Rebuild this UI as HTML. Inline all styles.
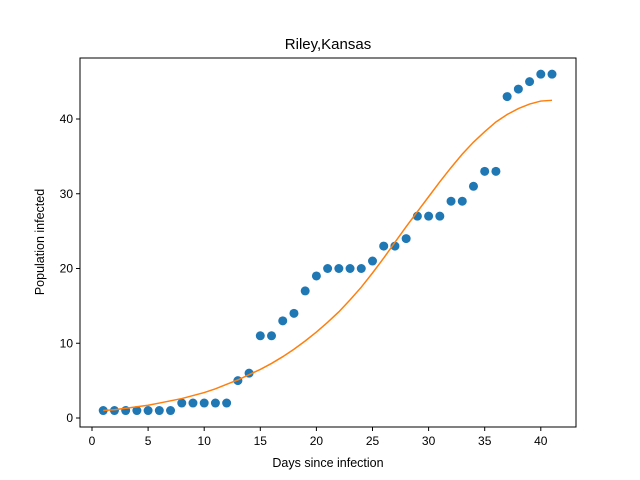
<!DOCTYPE html>
<html><head><meta charset="utf-8"><style>body{margin:0;background:#fff}svg{display:block;font-family:"Liberation Sans",sans-serif}</style></head>
<body>
<svg id="c" width="640" height="480"></svg>
<script>
const days=[1,2,3,4,5,6,7,8,9,10,11,12,13,14,15,16,17,18,19,20,21,22,23,24,25,26,27,28,29,30,31,32,33,34,35,36,37,38,39,40,41];
const infected=[1,1,1,1,1,1,1,2,2,2,2,2,5,6,11,11,13,14,17,19,20,20,20,20,21,23,23,24,27,27,27,29,29,31,33,33,43,44,45,46,46];
const fitted=[1.0,1.1,1.3,1.5,1.7,2.0,2.3,2.6,3.0,3.4,3.9,4.5,5.1,5.8,6.5,7.3,8.2,9.2,10.3,11.5,12.8,14.2,15.8,17.5,19.4,21.4,23.5,25.6,27.6,29.6,31.6,33.5,35.3,36.9,38.3,39.6,40.6,41.4,42.0,42.4,42.5];
const xTicks=[0,5,10,15,20,25,30,35,40];
const yTicks=[0,10,20,30,40];
const NS="http://www.w3.org/2000/svg";
const svg=document.getElementById('c');
const L=80,R=576,T=58,B=427;
const xs=v=>92+(v)*11.22;
const ys=v=>418-v*7.475;
function el(t,a,p){const e=document.createElementNS(NS,t);for(const k in a)e.setAttribute(k,a[k]);(p||svg).appendChild(e);return e;}
const frame=el('rect',{x:L,y:T,width:R-L,height:B-T,fill:'none',stroke:'#000','stroke-width':1});


xTicks.forEach(v=>{const g=el('g',{});


el('line',{x1:xs(v),x2:xs(v),y1:B,y2:B+4,stroke:'#000'},g);
const t=el('text',{x:xs(v),y:B+18,'font-size':12,'text-anchor':'middle'},g);t.textContent=v;});
yTicks.forEach(v=>{const g=el('g',{});


el('line',{x1:L,x2:L-4,y1:ys(v),y2:ys(v),stroke:'#000'},g);
const t=el('text',{x:L-7,y:ys(v)+4,'font-size':12,'text-anchor':'end'},g);t.textContent=v;});
days.forEach((d,i)=>{const c=el('circle',{cx:xs(d),cy:ys(infected[i]),r:4.5,fill:'#1f77b4'});

});
const pl=el('polyline',{points:days.map((d,i)=>xs(d)+','+ys(fitted[i])).join(' '),fill:'none',stroke:'#ff7f0e','stroke-width':1.5});


const ti=el('text',{x:328,y:49,'font-size':15,'text-anchor':'middle'});ti.textContent='Riley,Kansas';


const xl=el('text',{x:328,y:467,'font-size':12.5,'text-anchor':'middle'});xl.textContent='Days since infection';


const yl=el('text',{x:0,y:0,'font-size':12.5,'text-anchor':'middle',transform:'translate(44,242) rotate(-90)'});yl.textContent='Population infected';


</script>
</body></html>
